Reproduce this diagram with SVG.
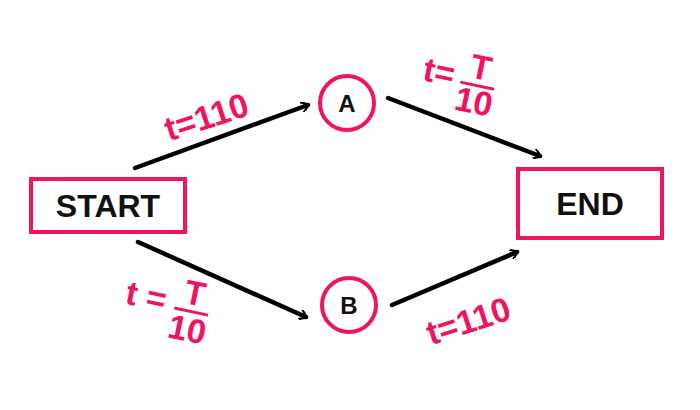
<svg xmlns="http://www.w3.org/2000/svg" width="700" height="410" viewBox="0 0 700 410">
<defs>
<marker id="ah" markerWidth="10" markerHeight="10" refX="7" refY="5" orient="auto" markerUnits="userSpaceOnUse" viewBox="0 0 10 10">
<path d="M1,0 L8,5 L1,10" fill="none" stroke="#000" stroke-width="2.2" stroke-linecap="round" stroke-linejoin="round"/>
</marker>
<style>
.box{fill:#fff;stroke:#f0145f;stroke-width:4}
.nt{font-family:"Liberation Sans",sans-serif;font-weight:bold;font-size:32px;fill:#111;text-anchor:middle}
.ct{font-family:"Liberation Sans",sans-serif;font-weight:bold;font-size:24px;fill:#111;text-anchor:middle}
.lb{font-family:"Liberation Sans",sans-serif;font-weight:bold;font-size:34px;fill:#f0145f;text-anchor:middle}
.fl{stroke:#f0145f;stroke-width:3;stroke-linecap:round}
.cn{stroke:#000;stroke-width:4.5;fill:none;stroke-linecap:round;marker-end:url(#ah)}
</style>
</defs>
<rect width="700" height="410" fill="#fff"/>
<g id="connectors">
<line class="cn" x1="135" y1="168" x2="308" y2="105"/>
<line class="cn" x1="388" y1="98" x2="540" y2="156"/>
<line class="cn" x1="138" y1="242" x2="306" y2="317"/>
<line class="cn" x1="392" y1="305" x2="517" y2="252"/>
</g>
<g id="start"><rect class="box" x="31" y="179" width="154" height="53"/><text class="nt" x="108" y="217">START</text></g>
<g id="end"><rect class="box" x="518" y="169" width="144" height="69"/><text class="nt" x="590" y="215">END</text></g>
<g id="A"><circle class="box" cx="347" cy="103" r="27" stroke-width="2.5"/><text class="ct" x="347" y="112">A</text></g>
<g id="B"><circle class="box" cx="349" cy="305" r="27" stroke-width="2.5"/><text class="ct" x="349" y="314">B</text></g>
<g id="labels">
<text class="lb" transform="translate(210,128) rotate(-18)" x="0" y="0">t=110</text>
<text class="lb" transform="translate(472,332) rotate(-18)" x="0" y="0">t=110</text>
<g transform="translate(460,80) rotate(12)">
<text class="lb" x="-22" y="8">t=</text>
<text class="lb" x="18" y="-5">T</text>
<line class="fl" x1="2" y1="2" x2="34" y2="2"/>
<text class="lb" x="18" y="30" font-size="24">10</text>
</g>
<g transform="translate(170,305) rotate(12)">
<text class="lb" x="-25" y="8">t =</text>
<text class="lb" x="22" y="-5">T</text>
<line class="fl" x1="6" y1="2" x2="38" y2="2"/>
<text class="lb" x="22" y="32" font-size="26">10</text>
</g>
</g>
</svg>
